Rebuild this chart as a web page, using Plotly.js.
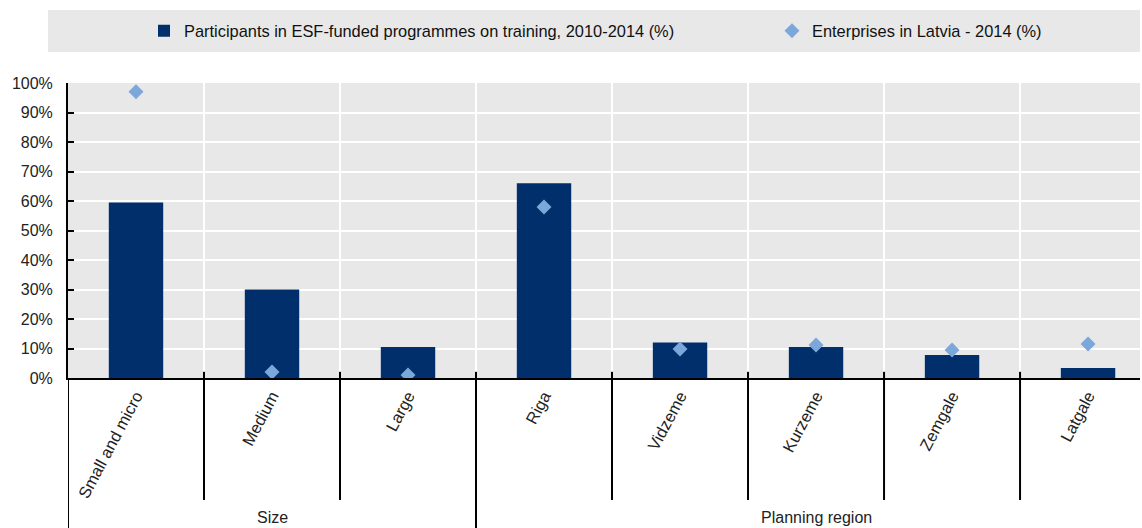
<!DOCTYPE html>
<html>
<head>
<meta charset="utf-8">
<script src="https://cdn.plot.ly/plotly-3.0.1.min.js"></script>
<style>
  html, body { margin: 0; padding: 0; background: #fff; }
  #plot { width: 1142px; height: 528px; }
</style>
</head>
<body>
<div id="plot"></div>
<script>
// categories and their groups
var categories = ["Small and micro", "Medium", "Large", "Riga", "Vidzeme", "Kurzeme", "Zemgale", "Latgale"];
var groupNames = ["Size", "Planning region"];
var groupCenters = [1, 5];
var innerBounds = [0.5, 1.5, 3.5, 4.5, 5.5, 6.5];
var groupBounds = [-0.5, 2.5];

// values (%)
var participants = [59.5, 30, 10.5, 66, 12, 10.5, 7.8, 3.4];
var enterprises = [97, 2, 1, 58, 9.8, 11.2, 9.5, 11.5];

// y ticks
var yTickVals = [0, 10, 20, 30, 40, 50, 60, 70, 80, 90, 100];
var yTickText = ["0%", "10%", "20%", "30%", "40%", "50%", "60%", "70%", "80%", "90%", "100%"];

var xs = categories.map(function(c, i) { return i; });

var traceBar = {
  x: xs,
  y: participants,
  type: "bar",
  width: 0.4,
  name: "Participants in ESF-funded programmes on training, 2010-2014 (%)",
  marker: { color: "#002f6c" },
  legend: "legend"
};

var traceDots = {
  x: xs,
  y: enterprises,
  type: "scatter",
  mode: "markers",
  name: "Enterprises in Latvia - 2014 (%)",
  marker: { symbol: "diamond", size: 11.5, color: "#7ba7da" },
  legend: "legend2"
};

var shapes = [];
// grey legend band
shapes.push({
  type: "rect", xref: "paper", yref: "paper", layer: "below",
  x0: -0.0187, x1: 1.0, y0: 1.105, y1: 1.2475,
  fillcolor: "#e8e8e8", line: { width: 0 }
});
// vertical white gridlines at category boundaries
[0.5, 1.5, 2.5, 3.5, 4.5, 5.5, 6.5].forEach(function(b) {
  shapes.push({ type: "line", xref: "x", yref: "y", layer: "below", x0: b, x1: b, y0: 0, y1: 100,
    line: { color: "#fff", width: 2 } });
  // small tick above the axis
  shapes.push({ type: "line", xref: "x", yref: "y", x0: b, x1: b, y0: 0, y1: 2.1,
    line: { color: "#000", width: 2 } });
});
innerBounds.forEach(function(b) {
  shapes.push({ type: "line", xref: "x", yref: "paper", x0: b, x1: b, y0: 0, y1: -0.4136,
    line: { color: "#000", width: 2 } });
});
groupBounds.forEach(function(b) {
  shapes.push({ type: "line", xref: "x", yref: "paper", x0: b, x1: b, y0: 0, y1: -0.52,
    line: { color: "#000", width: 2 } });
});

var annotations = groupNames.map(function(g, i) {
  return {
    text: g, xref: "x", yref: "paper", x: groupCenters[i], y: -0.473,
    showarrow: false, xanchor: "center", yanchor: "middle",
    font: { size: 16, color: "#222" }
  };
});

var legendBase = {
  orientation: "h",
  yanchor: "middle",
  y: 1.176,
  xanchor: "left",
  bgcolor: "rgba(0,0,0,0)",
  font: { size: 16.4, color: "#111" },
  itemwidth: 30
};

var layout = {
  width: 1142,
  height: 528,
  margin: { l: 68, r: 2, t: 83, b: 150 },
  paper_bgcolor: "#fff",
  plot_bgcolor: "#e8e8e8",
  font: { family: "Liberation Sans, Arial, sans-serif", size: 16, color: "#222" },
  showlegend: true,
  legend: Object.assign({}, legendBase, { x: 0.0709 }),
  legend2: Object.assign({}, legendBase, { x: 0.6567 }),
  xaxis: {
    type: "linear",
    range: [-0.5, 7.382],
    tickmode: "array",
    tickvals: xs,
    ticktext: categories,
    tickangle: -62,
    ticks: "",
    showgrid: false,
    zeroline: false,
    showline: true,
    linecolor: "#000",
    linewidth: 2,
    tickfont: { size: 16.5, color: "#222" },
    fixedrange: true
  },
  yaxis: {
    range: [0, 100],
    tickmode: "array",
    tickvals: yTickVals,
    ticktext: yTickText,
    ticks: "inside",
    ticklen: 6,
    tickwidth: 2,
    tickcolor: "#000",
    showline: true,
    linecolor: "#000",
    linewidth: 2,
    showgrid: true,
    gridcolor: "#fff",
    gridwidth: 2,
    zeroline: false,
    ticklabelstandoff: 10,
    tickfont: { size: 16, color: "#222" },
    fixedrange: true
  },
  shapes: shapes,
  annotations: annotations
};

Plotly.newPlot("plot", [traceBar, traceDots], layout, { displayModeBar: false, staticPlot: true });
</script>
</body>
</html>
